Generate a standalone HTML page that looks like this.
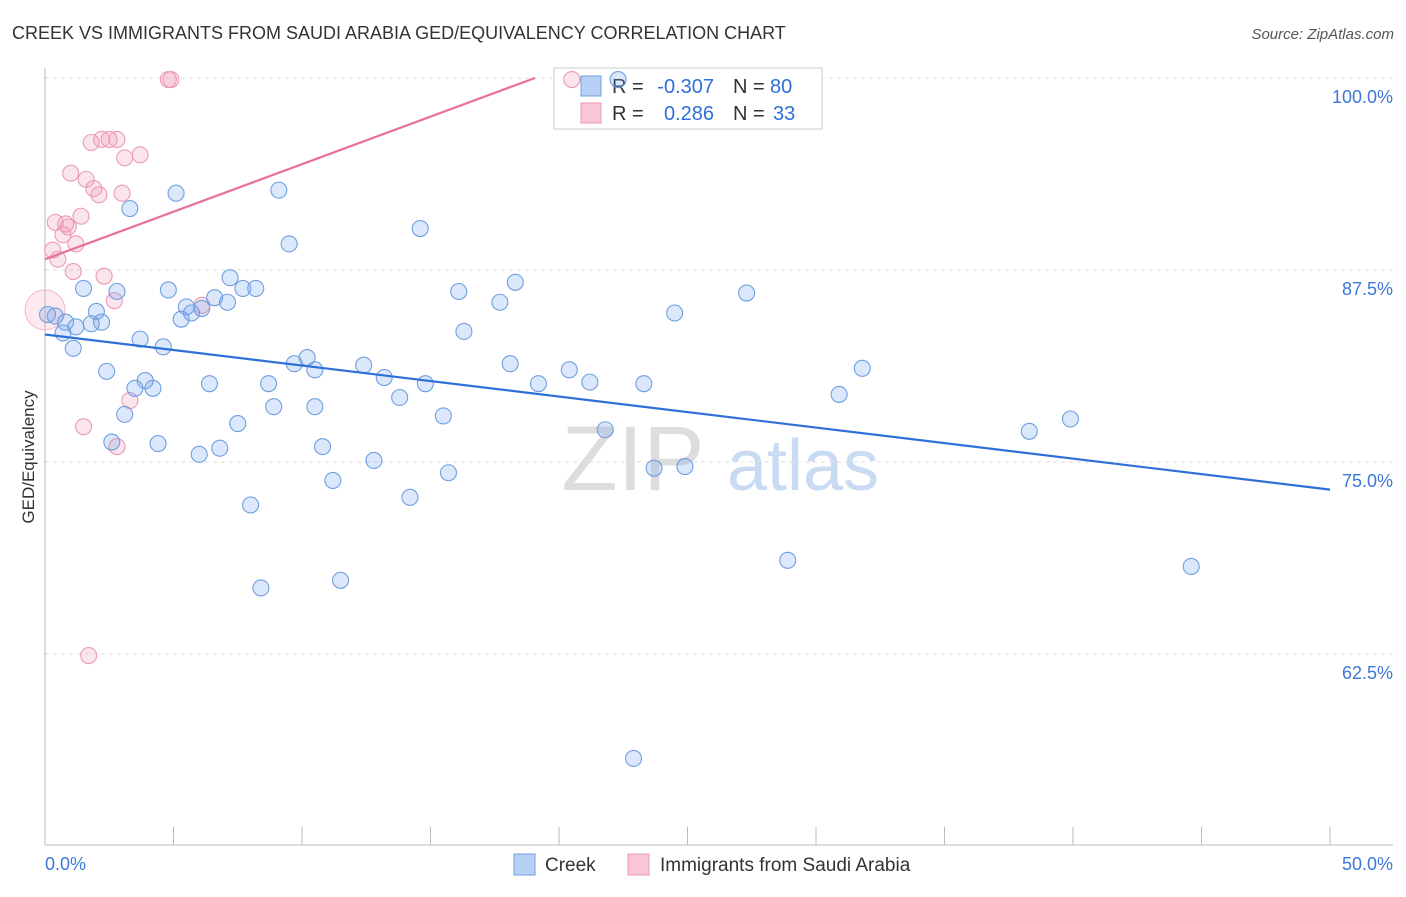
<!DOCTYPE html>
<html><head><meta charset="utf-8"><style>
body{margin:0;background:#fff;font-family:"Liberation Sans",sans-serif}
svg text{font-family:"Liberation Sans",sans-serif}
</style></head><body>
<svg id="chart" width="1406" height="892" xmlns="http://www.w3.org/2000/svg">
<text x="12" y="39" font-size="18" fill="#333">CREEK VS IMMIGRANTS FROM SAUDI ARABIA GED/EQUIVALENCY CORRELATION CHART</text>
<text x="1394" y="39" font-size="15" fill="#555" text-anchor="end" font-style="italic">Source: ZipAtlas.com</text>
<text transform="translate(34,457) rotate(-90)" font-size="17" fill="#333" text-anchor="middle">GED/Equivalency</text>
<g><text x="633" y="490" font-size="92" fill="#ddd" font-family="Liberation Serif" text-anchor="middle">ZIP</text><text x="803" y="490" font-size="72" fill="#c9daf3" text-anchor="middle">atlas</text></g>
<g id="grid"></g><g id="axes"></g>
<g>
<rect x="554" y="68" width="268" height="61" fill="#fff" stroke="#ccc"/>
<rect x="581" y="76" width="20" height="20" fill="#b8d0f5" stroke="#6f9fe0"/>
<rect x="581" y="103" width="20" height="20" fill="#f8c6d6" stroke="#ec9ab5"/>
<text x="612" y="93" font-size="20" fill="#333">R =</text>
<text x="714" y="93" font-size="20" fill="#2e6fd8" text-anchor="end">-0.307</text>
<text x="733" y="93" font-size="20" fill="#333">N =</text>
<text x="770" y="93" font-size="20" fill="#2e6fd8">80</text>
<text x="612" y="120" font-size="20" fill="#333">R =</text>
<text x="714" y="120" font-size="20" fill="#2e6fd8" text-anchor="end">0.286</text>
<text x="733" y="120" font-size="20" fill="#333">N =</text>
<text x="773" y="120" font-size="20" fill="#2e6fd8">33</text>
</g>
<g id="marks"></g>
<g>
<rect x="514" y="854" width="21" height="21" fill="#b8d0f5" stroke="#6f9fe0"/>
<text x="545" y="871" font-size="19" fill="#333">Creek</text>
<rect x="628" y="854" width="21" height="21" fill="#f8c6d6" stroke="#ec9ab5"/>
<text x="660" y="871" font-size="19" fill="#333">Immigrants from Saudi Arabia</text>
</g>
</svg>
<script>
const creekX=[0.1,0.4,0.7,0.8,1.1,1.2,1.5,1.8,2.0,2.2,2.4,2.6,2.8,3.1,3.3,3.5,3.7,3.9,4.2,4.4,4.6,4.8,5.1,5.3,5.5,5.7,6.0,6.1,6.4,6.6,6.8,7.1,7.2,7.5,7.7,8.0,8.2,8.4,8.7,8.9,9.1,9.5,9.7,10.2,10.5,10.5,10.8,11.2,11.5,12.4,12.8,13.2,13.8,14.2,14.6,14.8,15.5,15.7,16.1,16.3,17.7,18.1,18.3,19.2,20.4,21.2,21.8,22.3,22.9,23.3,23.7,24.5,24.9,27.3,28.9,30.9,31.8,38.3,39.9,44.6];
const creekY=[84.6,84.5,83.4,84.1,82.4,83.8,86.3,84.0,84.8,84.1,80.9,76.3,86.1,78.1,91.5,79.8,83.0,80.3,79.8,76.2,82.5,86.2,92.5,84.3,85.1,84.7,75.5,85.0,80.1,85.7,75.9,85.4,87.0,77.5,86.3,72.2,86.3,66.8,80.1,78.6,92.7,89.2,81.4,81.8,78.6,81.0,76.0,73.8,67.3,81.3,75.1,80.5,79.2,72.7,90.2,80.1,78.0,74.3,86.1,83.5,85.4,81.4,86.7,80.1,81.0,80.2,77.1,99.9,55.7,80.1,74.6,84.7,74.7,86.0,68.6,79.4,81.1,77.0,77.8,68.2];
const saudiX=[0.3,0.4,0.5,0.7,0.8,0.9,1.0,1.1,1.2,1.4,1.5,1.6,1.7,1.8,1.9,2.1,2.2,2.3,2.5,2.7,2.8,2.8,3.0,3.1,3.3,3.7,4.8,4.9,6.1,20.5];
const saudiY=[88.8,90.6,88.2,89.8,90.5,90.3,93.8,87.4,89.2,91.0,77.3,93.4,62.4,95.8,92.8,92.4,96.0,87.1,96.0,85.5,96.0,76.0,92.5,94.8,79.0,95.0,99.9,99.9,85.2,99.9];
const bigSaudi=[0,84.9];
const trendCreek=[83.3,-0.202];
const trendSaudi=[88.2,0.619];
const yTicks=[100,87.5,75,62.5];
const yTickLabels=["100.0%","87.5%","75.0%","62.5%"];
const xTicks=[0,5,10,15,20,25,30,35,40,45,50];

const NS="http://www.w3.org/2000/svg";
const sx=v=>45+v/50*1285;
const sy=v=>78+(100-v)/12.5*192;
function mk(tag,attrs,parent){const e=document.createElementNS(NS,tag);for(const k in attrs)e.setAttribute(k,attrs[k]);document.getElementById(parent).appendChild(e);return e;}
yTicks.forEach((t,i)=>{
  const l=mk('line',{x1:45,x2:1393,y1:sy(t),y2:sy(t),stroke:'#ddd','stroke-dasharray':'4,4'},'grid');
  
  
  const tx=mk('text',{x:1393,y:sy(t)+25,'font-size':18,fill:'#3d78d8','text-anchor':'end'},'grid');
  tx.textContent=yTickLabels[i];
  
  
});
const ax=mk('line',{x1:45,x2:45,y1:68,y2:845,stroke:'#bbb'},'axes');


const bx=mk('line',{x1:45,x2:1393,y1:845,y2:845,stroke:'#bbb'},'axes');


xTicks.forEach(t=>{
  const l=mk('line',{x1:sx(t),x2:sx(t),y1:827,y2:845,stroke:'#bbb'},'axes');
  
  
});
[[0,'0.0%','start',45],[50,'50.0%','end',1393]].forEach(a=>{
  const t=mk('text',{x:a[3],y:870,'font-size':18,fill:'#3d78d8','text-anchor':a[2]},'axes');
  t.textContent=a[1];
  
  
});
const bc=mk('circle',{cx:sx(bigSaudi[0]),cy:sy(bigSaudi[1]),r:20,fill:'rgba(240,150,180,0.2)',stroke:'#f2b5c8'},'marks');


saudiX.forEach((x,i)=>{
  const c=mk('circle',{cx:sx(x),cy:sy(saudiY[i]),r:8,fill:'rgba(240,150,180,0.25)',stroke:'#ec9ab5','stroke-width':1.1},'marks');
  
  
});
creekX.forEach((x,i)=>{
  const c=mk('circle',{cx:sx(x),cy:sy(creekY[i]),r:8,fill:'rgba(110,160,235,0.25)',stroke:'#6f9fe0','stroke-width':1.1},'marks');
  
  
});
const tc=mk('line',{x1:sx(0),y1:sy(trendCreek[0]),x2:sx(50),y2:sy(trendCreek[0]+trendCreek[1]*50),stroke:'#2e6fd8','stroke-width':2.2},'marks');


const xe=(100-trendSaudi[0])/trendSaudi[1];
const ts=mk('line',{x1:sx(0),y1:sy(trendSaudi[0]),x2:sx(xe),y2:sy(100),stroke:'#e8709a','stroke-width':2.2},'marks');


</script>
</body></html>
